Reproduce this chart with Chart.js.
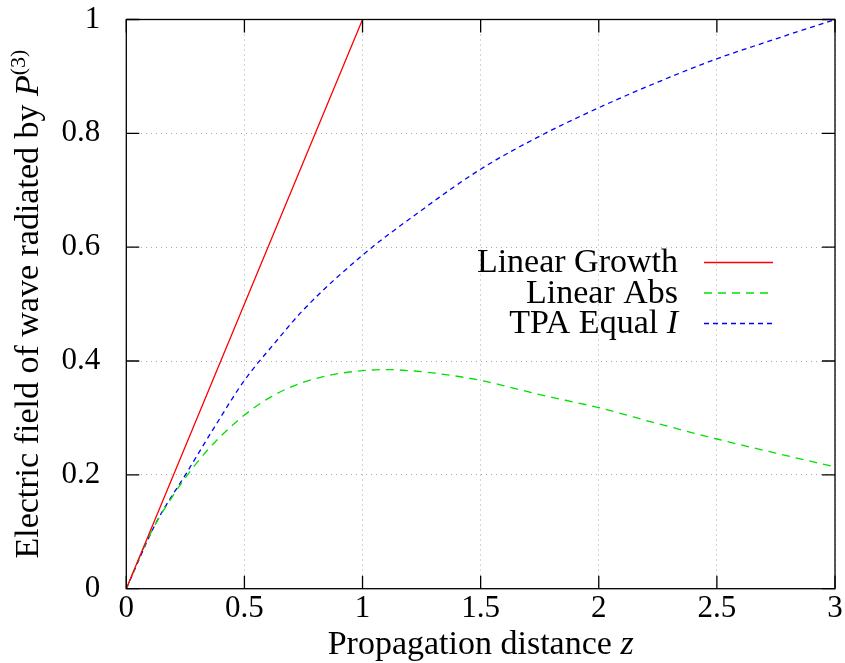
<!DOCTYPE html>
<html>
<head>
<meta charset="utf-8">
<script src="https://cdn.jsdelivr.net/npm/chart.js@4.4.0/dist/chart.umd.min.js"></script>
<style>
  html, body { margin: 0; padding: 0; background: #fff; }
  #wrap { width: 845px; height: 663px; position: relative; }
</style>
</head>
<body>
<div id="wrap"><canvas id="fieldChart"></canvas></div>
<script>
// field radiated by P(3) vs propagation distance, three models
const growthZ = [0, 1];
const growthE = [0, 1];

const absZ = [0, 0.1, 0.2, 0.3, 0.4, 0.5, 0.6, 0.7, 0.8, 0.9, 1.0, 1.1, 1.2, 1.3, 1.5, 1.75, 2.0, 2.25, 2.5, 2.75, 3.0];
const absE = [0, 0.095, 0.165, 0.222, 0.268, 0.305, 0.334, 0.355, 0.369, 0.378, 0.383, 0.385, 0.383, 0.379, 0.366, 0.341, 0.318, 0.29, 0.263, 0.238, 0.214];

const tpaZ = [0, 0.125, 0.25, 0.375, 0.5, 0.625, 0.75, 1.0, 1.25, 1.5, 1.75, 2.0, 2.25, 2.5, 2.75, 3.0];
const tpaE = [0, 0.115, 0.2, 0.285, 0.366, 0.43, 0.49, 0.586, 0.665, 0.737, 0.795, 0.845, 0.89, 0.931, 0.966, 1.0];

const xTicks = [0, 0.5, 1, 1.5, 2, 2.5, 3];
const yTicks = [0, 0.2, 0.4, 0.6, 0.8, 1];

const seriesLabels = ["Linear Growth", "Linear Abs", "TPA Equal I"];
const seriesColors = ["#ff0000", "#00e000", "#0000ff"];
const seriesDash = [[], [8, 6], [5, 4]];

const SERIF = "'Liberation Serif', 'Times New Roman', serif";
const TEXT_SIZE = 34;
const TICK_LEN = 13;

const toPoints = (zs, es) => zs.map((z, i) => ({ x: z, y: es[i] }));

// draws a run of text pieces, some italic or raised, as one line
function drawRich(ctx, parts, x, y, align) {
    const fontOf = p => `${p.it ? "italic " : ""}${p.sup ? 22 : TEXT_SIZE}px ${SERIF}`;
    let total = 0;
    parts.forEach(p => { ctx.font = fontOf(p); total += ctx.measureText(p.t).width; });
    let cx = align === "center" ? x - total / 2 : align === "right" ? x - total : x;
    ctx.textAlign = "left";
    ctx.textBaseline = "alphabetic";
    parts.forEach(p => {
        ctx.font = fontOf(p);
        ctx.fillText(p.t, cx, p.sup ? y - 13 : y);
        cx += ctx.measureText(p.t).width;
    });
}

function labelParts(label) {
    // trailing variable names are set in italic
    if (label.endsWith(" I")) return [{ t: label.slice(0, -1) }, { t: "I", it: true }];
    return [{ t: label }];
}

/* -------------------- FRAME, TICKS, TITLES, KEY -------------------- */
const gnuFrame = {
    id: "gnuFrame",
    afterDraw(chart) {
        const { ctx, chartArea: a, scales: { x, y } } = chart;
        ctx.save();
        ctx.strokeStyle = "#000";
        ctx.lineWidth = 1.3;
        ctx.setLineDash([]);
        ctx.beginPath();
        xTicks.forEach(v => {
            const px = x.getPixelForValue(v);
            ctx.moveTo(px, a.bottom); ctx.lineTo(px, a.bottom - TICK_LEN);
            ctx.moveTo(px, a.top); ctx.lineTo(px, a.top + TICK_LEN);
        });
        yTicks.forEach(v => {
            const py = y.getPixelForValue(v);
            ctx.moveTo(a.left, py); ctx.lineTo(a.left + TICK_LEN, py);
            ctx.moveTo(a.right, py); ctx.lineTo(a.right - TICK_LEN, py);
        });
        ctx.stroke();
        ctx.strokeRect(a.left, a.top, a.right - a.left, a.bottom - a.top);

        // axis titles
        ctx.fillStyle = "#000";
        drawRich(ctx, [{ t: "Propagation distance " }, { t: "z", it: true }],
            (a.left + a.right) / 2, 654, "center");
        ctx.save();
        ctx.translate(38, (a.top + a.bottom) / 2);
        ctx.rotate(-Math.PI / 2);
        drawRich(ctx, [{ t: "Electric field of wave radiated by " }, { t: "P", it: true }, { t: "(3)", sup: true }],
            0, 0, "center");
        ctx.restore();

        // key, text right-aligned with the line sample to its right
        const textRight = a.right - 157;
        seriesLabels.forEach((label, i) => {
            const ly = a.top + 243 + i * 30.5;
            drawRich(ctx, labelParts(label), textRight, ly + 9.5, "right");
            ctx.strokeStyle = seriesColors[i];
            ctx.lineWidth = 1.3;
            ctx.setLineDash(seriesDash[i]);
            ctx.beginPath();
            ctx.moveTo(a.right - 131, ly);
            ctx.lineTo(a.right - 62, ly);
            ctx.stroke();
        });
        ctx.restore();
    }
};

const series = [toPoints(growthZ, growthE), toPoints(absZ, absE), toPoints(tpaZ, tpaE)];

new Chart(document.getElementById("fieldChart"), {
    type: "line",
    data: {
        datasets: series.map((pts, i) => ({
            label: seriesLabels[i],
            data: pts,
            borderColor: seriesColors[i],
            borderWidth: 1.3,
            borderDash: seriesDash[i],
            pointRadius: 0,
            fill: false,
            cubicInterpolationMode: "monotone"
        }))
    },
    options: {
        responsive: true,
        maintainAspectRatio: false,
        animation: false,
        layout: { padding: { left: 0, top: 19.5, right: 10, bottom: 0 } },
        plugins: { legend: { display: false }, tooltip: { enabled: false } },
        scales: {
            x: {
                type: "linear",
                min: 0,
                max: 3,
                afterBuildTicks: s => { s.ticks = xTicks.map(v => ({ value: v })); },
                afterFit: s => {
                    s.height = 74.3;
                    s.paddingLeft = 0;
                    s.paddingRight = 0;
                },
                grid: { color: "#a8a8a8", lineWidth: 1, drawTicks: false, borderDash: [1, 4] },
                border: { display: false, dash: [1, 4] },
                ticks: { padding: 2, color: "#000", font: { family: SERIF, size: 31 }, maxRotation: 0,
                         callback: v => String(v) }
            },
            y: {
                type: "linear",
                min: 0,
                max: 1,
                afterBuildTicks: s => { s.ticks = yTicks.map(v => ({ value: v })); },
                afterFit: s => {
                    s.width = 126.3;
                    s.paddingTop = 0;
                    s.paddingBottom = 0;
                },
                grid: { color: "#a8a8a8", lineWidth: 1, drawTicks: false, borderDash: [1, 4] },
                border: { display: false, dash: [1, 4] },
                ticks: { padding: 26, color: "#000", font: { family: SERIF, size: 31 },
                         callback: v => String(v) }
            }
        }
    },
    plugins: [gnuFrame]
});
</script>
</body>
</html>
